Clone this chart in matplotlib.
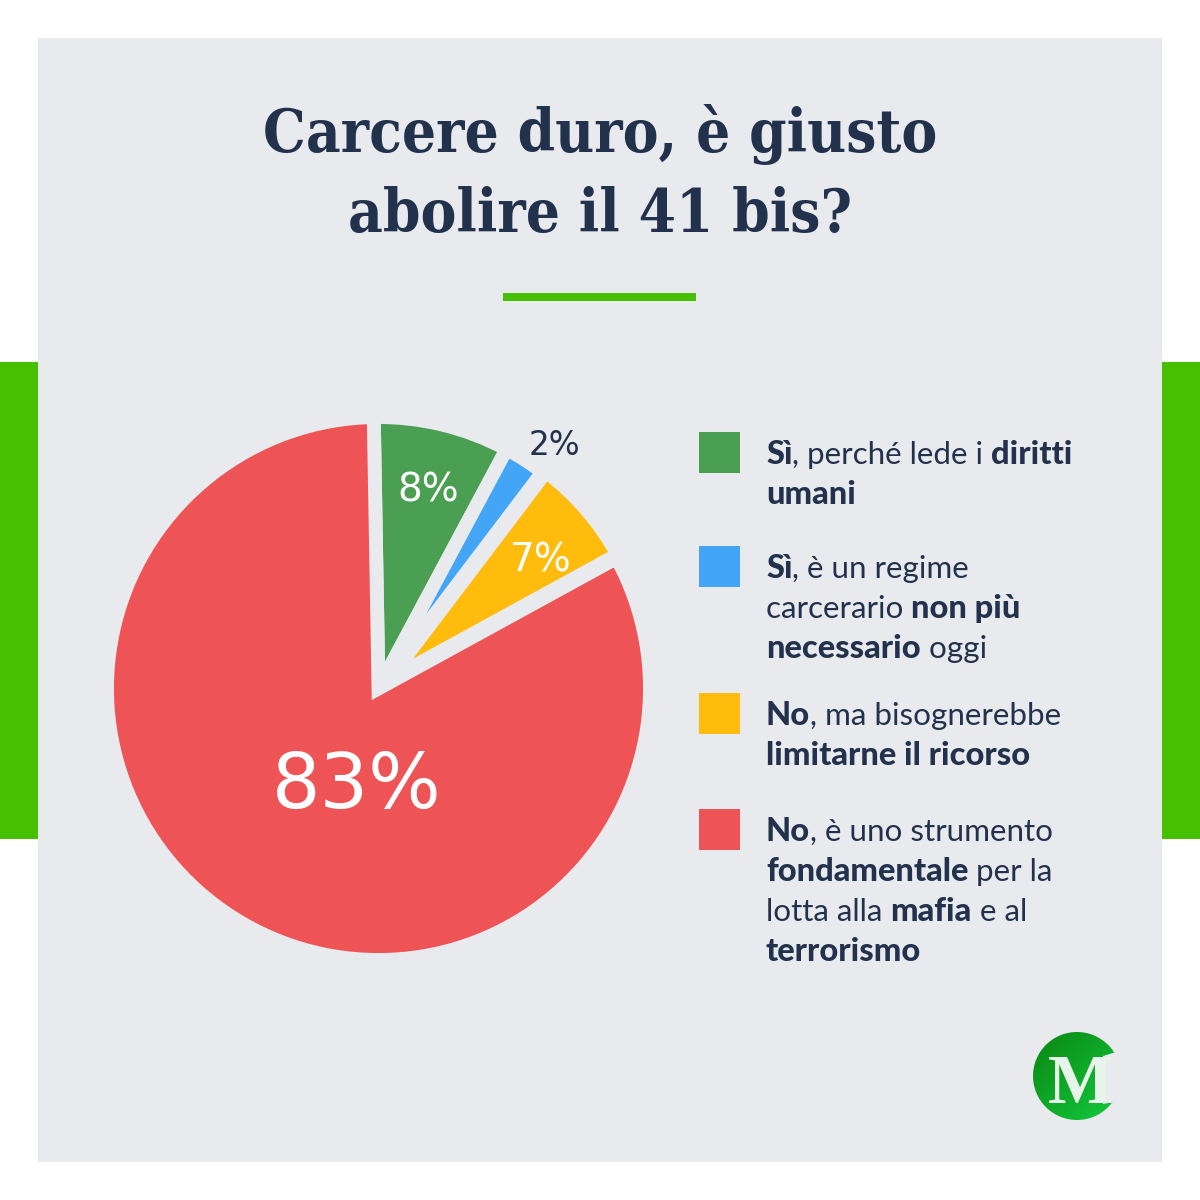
import matplotlib
matplotlib.use("Agg")
import matplotlib.pyplot as plt
import numpy as np
from matplotlib.colors import LinearSegmentedColormap
from matplotlib.patches import Circle, Polygon, Rectangle

BG = "#E8EAEE"
BAND = "#46C000"
INK = "#22324D"

title_lines = ["Carcere duro, è giusto", "abolire il 41 bis?"]
values = [8.1, 2.5, 6.7, 82.7]
colors = ["#4A9F52", "#42A5F5", "#FFBC0D", "#EE5355"]
pct_labels = ["8%", "2%", "7%", "83%"]
pct_pos = [(428, 487), (554, 442), (541, 557), (357, 779)]
pct_size = [28, 23.5, 28, 55]
pct_color = ["white", INK, "white", "white"]

legend_tops = [432, 546, 693, 809]
legend_rows = [
    [[("Sì", True), (", perché lede i ", False), ("diritti", True)],
     [("umani", True)]],
    [[("Sì", True), (", è un regime", False)],
     [("carcerario ", False), ("non più", True)],
     [("necessario", True), (" oggi", False)]],
    [[("No", True), (", ma bisognerebbe", False)],
     [("limitarne il ricorso", True)]],
    [[("No", True), (", è uno strumento", False)],
     [("fondamentale", True), (" per la", False)],
     [("lotta alla ", False), ("mafia", True), (" e al", False)],
     [("terrorismo", True)]],
]

fig = plt.figure(figsize=(12, 12), dpi=100, facecolor="white")
ax = fig.add_axes([0, 0, 1, 1])
ax.set_xlim(0, 1200)
ax.set_ylim(1200, 0)
ax.axis("off")

# panel and side bands
ax.add_patch(Rectangle((38, 38), 1124, 1124, color=BG, lw=0))
ax.add_patch(Rectangle((0, 362), 38, 477, color=BAND, lw=0))
ax.add_patch(Rectangle((1162, 362), 38, 477, color=BAND, lw=0))
ax.add_patch(Rectangle((503, 293), 193, 8, color=BAND, lw=0))

for line, y in zip(title_lines, [152, 232]):
    ax.text(600, y, line, ha="center", va="baseline", family="DejaVu Serif",
            stretch="condensed", fontweight="bold", fontsize=43, color=INK)

# pie: the gaps come from a thick background-coloured stroke
pie_cx, pie_cy, pie_r = 378.5, 688.5, 271.5
ax_pie = fig.add_axes([(pie_cx - pie_r) / 1200, 1 - (pie_cy + pie_r) / 1200,
                       2 * pie_r / 1200, 2 * pie_r / 1200])
wedges, _ = ax_pie.pie(values, colors=colors, startangle=91, counterclock=False,
                       radius=1, explode=[0, 0, 0.045, 0],
                       wedgeprops={"edgecolor": BG, "linewidth": 10})
ax_pie.set_xlim(-1, 1)
ax_pie.set_ylim(-1, 1)
wedges[2].set_radius(0.965)
for w in wedges:
    w.set_joinstyle("miter")

for label, (x, y), size, col in zip(pct_labels, pct_pos, pct_size, pct_color):
    fig.text(x / 1200, 1 - y / 1200, label, ha="center", va="center_baseline",
             family="DejaVu Sans", fontsize=size, color=col)

# legend, word runs placed one after the other
fig.canvas.draw()
renderer = fig.canvas.get_renderer()


def run_width(chunk, weight, size):
    # trailing spaces are not in the extent, so measure between two stand-ins
    probe = ax.text(0, 0, "x" + chunk + "x", family="Lato", fontweight=weight, fontsize=size)
    full = probe.get_window_extent(renderer).width
    probe.set_text("xx")
    base = probe.get_window_extent(renderer).width
    probe.remove()
    return full - base


for top, color, rows in zip(legend_tops, colors, legend_rows):
    ax.add_patch(Rectangle((699, top), 41, 41, color=color, lw=0))
    for i, row in enumerate(rows):
        x = 766
        y = top + 32 + 40 * i
        for chunk, bold in row:
            weight = "black" if bold else "normal"
            size = 23.5 if bold else 22.6
            ax.text(x, y, chunk, ha="left", va="baseline", family="Lato",
                    fontweight=weight, fontsize=size, color=INK)
            x += run_width(chunk, weight, size)

# logo
gradient = np.linspace(0, 1, 64)[None, :] + np.linspace(0, 1, 64)[:, None]
logo = ax.imshow(gradient, extent=(1033, 1121, 1120, 1032), aspect="auto",
                 cmap=LinearSegmentedColormap.from_list("logo", ["#0A8612", "#14CC3E"]),
                 zorder=2)
logo.set_clip_path(Circle((1077, 1076), 44, transform=ax.transData))
ax.set_xlim(0, 1200)
ax.set_ylim(1200, 0)
ax.add_patch(Polygon([(1116, 1052), (1103, 1056), (1103, 1104), (1113, 1102), (1124, 1102), (1124, 1052)],
                     color=BG, lw=0, zorder=3))
ax.text(1081, 1103, "M", ha="center", va="baseline", family="Liberation Serif",
        fontweight="bold", fontsize=50, color="#E8F4EA", zorder=4)

fig.savefig("out.png", dpi=100, facecolor="white")
